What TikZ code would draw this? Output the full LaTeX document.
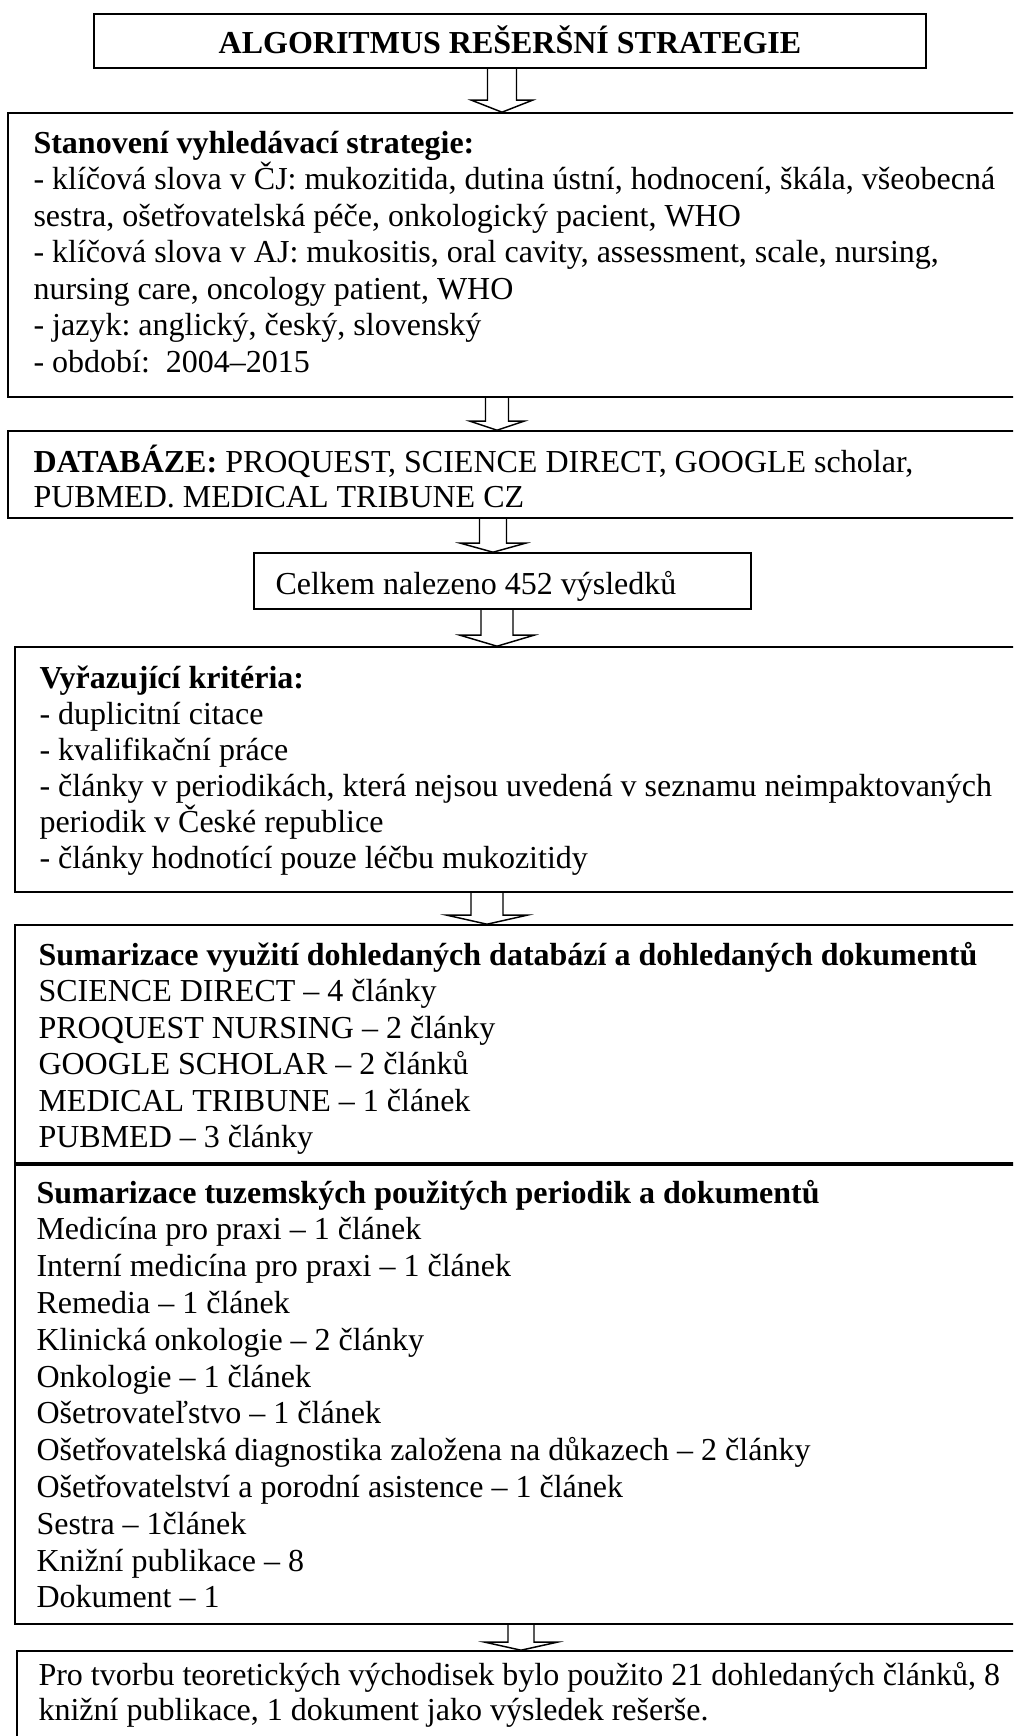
\documentclass[tikz,border=0pt]{standalone}
\usepackage{fontspec}
\setmainfont{Liberation Serif}
\usetikzlibrary{fit,calc}
\frenchspacing
\newcommand\blockarrow[6]{%
  \path[arr] let \p1=(#1.south), \p2=(#2.north), \p3=(#3,0) in
   ({\x3-#4*0.375pt},\y1) -- ({\x3-#4*0.375pt},{\y2+#6*0.375pt})
   -- ({\x3-#5*0.375pt},{\y2+#6*0.375pt}) -- (\x3,\y2)
   -- ({\x3+#5*0.375pt},{\y2+#6*0.375pt}) -- ({\x3+#4*0.375pt},{\y2+#6*0.375pt})
   -- ({\x3+#4*0.375pt},\y1);}
\begin{document}
\begin{tikzpicture}[x=0.375pt,y=-0.375pt,
  box/.style={draw, line width=0.6pt, inner sep=0pt, rectangle},
  txt/.style={anchor=base west, inner sep=0pt, align=left, text width=420pt,
    font=\fontsize{12pt}{#1}\selectfont\frenchspacing,
    execute at begin node={\spaceskip=0pt\relax\xspaceskip=0pt\relax}},
  txt/.default=13.69pt,
  arr/.style={draw, line width=0.55pt, line join=miter}]
\useasboundingbox (0,0) rectangle (1013,1736);
\clip (0,0) rectangle (1013,1736);
% boxes
\node[box, fit={(94,14) (926,68)}] (t) {};
\node[box, fit={(8,113) (1030,397)}] (b2) {};
\node[box, fit={(8,431) (1030,518)}] (b3) {};
\node[box, fit={(254,553) (751,609)}] (b4) {};
\node[box, fit={(15,647) (1030,892)}] (b5) {};
\node[box, fit={(15,925) (1030,1163)}] (b6) {};
\node[box, fit={(15,1165) (1030,1624)}] (b7) {};
\node[box, fit={(17,1651) (1030,1760)}] (b8) {};
% texts
\node[anchor=base, inner sep=0pt, font=\fontsize{12pt}{13.69pt}\selectfont\bfseries] (tt) at (510,53) {ALGORITMUS REŠERŠNÍ STRATEGIE};
\node[txt] (t2) at (33,153) {\textbf{Stanovení vyhledávací strategie:}\\
- klíčová slova v ČJ: mukozitida, dutina ústní, hodnocení, škála, všeobecná\\
sestra, ošetřovatelská péče, onkologický pacient, WHO\\
- klíčová slova v AJ: mukositis, oral cavity, assessment, scale, nursing,\\
nursing care, oncology patient, WHO\\
- jazyk: anglický, český, slovenský\\
- období:~ 2004–2015};
\node[txt=13.125pt] (t3) at (33,472) {\textbf{DATABÁZE:} PROQUEST, SCIENCE DIRECT, GOOGLE scholar,\\
PUBMED. MEDICAL TRIBUNE CZ};
\node[txt] (t4) at (275,594) {Celkem nalezeno 452 výsledků};
\node[txt=13.5pt] (t5) at (39,688) {\textbf{Vyřazující kritéria:}\\
- duplicitní citace\\
- kvalifikační práce\\
- články v periodikách, která nejsou uvedená v seznamu neimpaktovaných\\
periodik v České republice\\
- články hodnotící pouze léčbu mukozitidy};
\node[txt] (t6) at (38,965) {\textbf{Sumarizace využití dohledaných databází a dohledaných dokumentů}\\
SCIENCE DIRECT – 4 články\\
PROQUEST NURSING – 2 články\\
GOOGLE SCHOLAR – 2 článků\\
MEDICAL TRIBUNE – 1 článek\\
PUBMED – 3 články};
\node[txt=13.8pt] (t7) at (36,1203) {\textbf{Sumarizace tuzemských použitých periodik a dokumentů}\\
Medicína pro praxi – 1 článek\\
Interní medicína pro praxi – 1 článek\\
Remedia – 1 článek\\
Klinická onkologie – 2 články\\
Onkologie – 1 článek\\
Ošetrovateľstvo – 1 článek\\
Ošetřovatelská diagnostika založena na důkazech – 2 články\\
Ošetřovatelství a porodní asistence – 1 článek\\
Sestra – 1článek\\
Knižní publikace – 8\\
Dokument – 1};
\node[txt=13.125pt] (t8) at (38,1685) {Pro tvorbu teoretických východisek bylo použito 21 dohledaných článků, 8\\
knižní publikace, 1 dokument jako výsledek rešerše.};
% arrows
\blockarrow{t}{b2}{502}{14.5}{30.5}{12}
\blockarrow{b2}{b3}{497}{11.5}{27}{9}
\blockarrow{b3}{b4}{493}{13.5}{32.5}{9}
\blockarrow{b4}{b5}{497}{16}{37}{11}
\blockarrow{b5}{b6}{487}{16}{40}{9}
\blockarrow{b7}{b8}{521}{13}{36}{8}
\end{tikzpicture}
\end{document}
